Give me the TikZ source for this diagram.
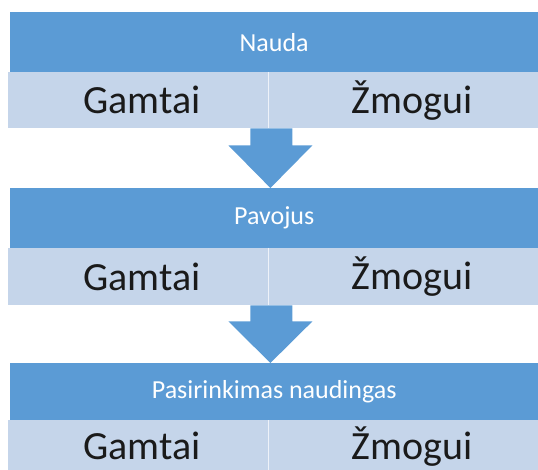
\documentclass[tikz,border=0pt]{standalone}
\usepackage{fontspec}
\setmainfont{Carlito}
\usetikzlibrary{calc}
\definecolor{hdrblue}{HTML}{5B9BD5}
\definecolor{rowblue}{HTML}{C5D5EA}
\definecolor{txtdark}{HTML}{1A1A1A}
\tikzset{
  hdrbox/.style={fill=hdrblue, draw=none, anchor=north west, minimum width=528pt, minimum height=60pt, inner sep=0pt, text=white, font=\fontsize{26}{30}\selectfont},
  cellbox/.style={fill=rowblue, draw=none, anchor=north west, minimum height=56pt, inner sep=0pt, text=txtdark, font=\fontsize{40}{46}\selectfont},
  leftcell/.style={cellbox, minimum width=260pt, text width=260pt, align=center, execute at begin node=\hspace*{8pt}},
  rightcell/.style={cellbox, minimum width=270pt, text width=270pt, align=center, execute at begin node=\hspace*{18pt}},
  divline/.style={draw=white!70!rowblue, line width=0.8pt},
  blockarrow/.style={fill=hdrblue, draw=none}
}
\begin{document}
\begin{tikzpicture}[x=1pt,y=-1pt]
\useasboundingbox (0,0) rectangle (538,470);
% level 1
\node[hdrbox] (h1) at (10,12) {Nauda};
\node[leftcell] (l1) at (8,72) {Gamtai};
\node[rightcell] (r1) at (268,72) {Žmogui};
\draw[divline] (l1.north east) -- (l1.south east);
% level 2
\node[hdrbox] (h2) at (10,188) {Pavojus};
\node[leftcell, minimum height=57pt] (l2) at (8,248) {Gamtai};
\node[rightcell, minimum height=57pt] (r2) at (268,248) {Žmogui};
\draw[divline] (l2.north east) -- (l2.south east);
% level 3
\node[hdrbox, minimum height=57pt] (h3) at (10,363) {Pasirinkimas naudingas};
\node[leftcell, minimum height=52pt] (l3) at (8,420) {Gamtai};
\node[rightcell, minimum height=52pt] (r3) at (268,420) {Žmogui};
\draw[divline] (l3.north east) -- (l3.south east);
% arrows
\coordinate (a1s) at ($(l1.south east)+(2,0)$);
\fill[blockarrow] ($(a1s)+(-20,0)$) -- ($(a1s)+(22,0)$) -- ($(a1s)+(22,17)$) -- ($(a1s)+(42,17)$)
  -- (a1s |- h2.north) -- ($(a1s)+(-42,17)$) -- ($(a1s)+(-20,17)$) -- cycle;
\coordinate (a2s) at ($(l2.south east)+(2,0)$);
\fill[blockarrow] ($(a2s)+(-20,0)$) -- ($(a2s)+(22,0)$) -- ($(a2s)+(22,16)$) -- ($(a2s)+(42,16)$)
  -- (a2s |- h3.north) -- ($(a2s)+(-42,16)$) -- ($(a2s)+(-20,16)$) -- cycle;
\end{tikzpicture}
\end{document}
